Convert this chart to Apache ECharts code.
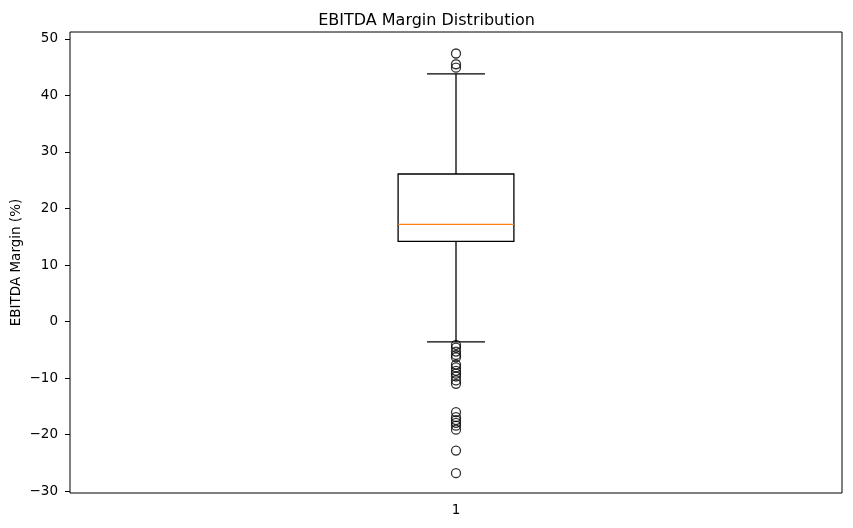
<!DOCTYPE html>
<html>
<head>
<meta charset="utf-8">
<script src="https://cdn.jsdelivr.net/npm/echarts@6/dist/echarts.min.js"></script>
<style>html,body{margin:0;padding:0;background:#fff}#c{width:853px;height:528px}</style>
</head>
<body>
<div id="c"></div>
<script>
var categories = ['1'];
// [lowerWhisker, Q1, median, Q3, upperWhisker]
var boxStats = [-3.6, 14.2, 17.2, 26.1, 43.8];
var outliers = [47.4, 45.5, 44.9,
  -4.1, -4.6, -5.3, -5.9, -6.3, -7.6, -8.1, -8.7, -9.2, -9.7, -10.4, -11.0,
  -16.0, -16.9, -17.4, -17.9, -18.4, -19.1, -22.8, -26.8];
var yTicks = [-30, -20, -10, 0, 10, 20, 30, 40, 50];

var chart = echarts.init(document.getElementById('c'));
var font = 'DejaVu Sans';
chart.setOption({
  animation: false,
  title: { text: 'EBITDA Margin Distribution', left: 'center', top: 8,
    textStyle: { fontFamily: font, fontSize: 16, fontWeight: 'normal', color: '#000' } },
  grid: { left: 70, right: 11, top: 32, bottom: 35, show: true, borderColor: '#000', borderWidth: 1,
    backgroundColor: 'transparent', containLabel: false, outerBoundsMode: 'none' },
  xAxis: {
    type: 'category', data: categories, boundaryGap: true,
    axisLine: { show: false },
    axisTick: { alignWithLabel: true, length: 5, lineStyle: { color: '#000' } },
    axisLabel: { color: '#000', fontFamily: font, fontSize: 13.5, margin: 10 },
    splitLine: { show: false }
  },
  yAxis: {
    type: 'value', min: -30.3, max: 51.2,
    name: 'EBITDA Margin (%)', nameLocation: 'middle', nameGap: 47, nameRotate: 90, nameMoveOverlap: false,
    nameTextStyle: { color: '#000', fontFamily: font, fontSize: 13.5 },
    axisLine: { show: false },
    axisTick: { show: true, length: 5, customValues: yTicks, lineStyle: { color: '#000' } },
    axisLabel: { color: '#000', fontFamily: font, fontSize: 13.5, margin: 12, customValues: yTicks,
      formatter: function (v) { return String(v).replace('-', '\u2212'); } },
    splitLine: { show: false }
  },
  series: [
    {
      type: 'custom',
      data: [[0].concat(boxStats)],
      renderItem: function (params, api) {
        var band = api.size([1, 0])[0];
        var half = band * 0.075;
        var capHalf = band * 0.0375;
        var c = api.coord([api.value(0), api.value(3)]);
        var x = c[0];
        var yLo = api.coord([0, api.value(1)])[1];
        var yQ1 = api.coord([0, api.value(2)])[1];
        var yMed = api.coord([0, api.value(3)])[1];
        var yQ3 = api.coord([0, api.value(4)])[1];
        var yHi = api.coord([0, api.value(5)])[1];
        var ls = { stroke: '#000', lineWidth: 1.3, fill: null };
        return {
          type: 'group',
          children: [
            { type: 'line', shape: { x1: x, y1: yQ1, x2: x, y2: yLo }, style: ls },
            { type: 'line', shape: { x1: x, y1: yQ3, x2: x, y2: yHi }, style: ls },
            { type: 'line', shape: { x1: x - capHalf, y1: yLo, x2: x + capHalf, y2: yLo }, style: ls },
            { type: 'line', shape: { x1: x - capHalf, y1: yHi, x2: x + capHalf, y2: yHi }, style: ls },
            { type: 'rect', shape: { x: x - half, y: yQ3, width: half * 2, height: yQ1 - yQ3 }, style: { stroke: '#000', lineWidth: 1.3, fill: 'transparent' } },
            { type: 'line', shape: { x1: x - half, y1: yMed, x2: x + half, y2: yMed }, style: { stroke: '#ff7f0e', lineWidth: 1.3 } }
          ]
        };
      },
      z: 2
    },
    {
      type: 'scatter',
      data: outliers.map(function (v) { return [0, v]; }),
      symbol: 'circle', symbolSize: 9,
      itemStyle: { color: 'transparent', borderColor: '#000', borderWidth: 1.3 },
      z: 3
    }
  ]
});
</script>
</body>
</html>
